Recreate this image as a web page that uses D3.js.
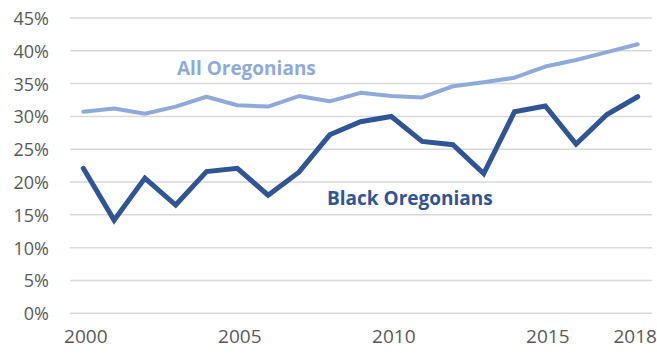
<!DOCTYPE html>
<html>
<head>
<meta charset="utf-8">
<script src="https://cdn.jsdelivr.net/npm/d3@7"></script>
<style>
  html, body { margin: 0; padding: 0; background: #ffffff; }
  svg { display: block; }
  text { font-family: "Open Sans", "Liberation Sans", sans-serif; }
</style>
</head>
<body>
<svg id="chart" width="657" height="353"></svg>
<script>
// Share of Oregonians, 2000–2018
const years = d3.range(2000, 2019);
const allOregonians = [30.7, 31.2, 30.4, 31.5, 33.0, 31.7, 31.5, 33.1, 32.3, 33.6,
                       33.1, 32.9, 34.6, 35.2, 35.9, 37.6, 38.6, 39.8, 41.0];
const blackOregonians = [22.1, 14.2, 20.6, 16.5, 21.6, 22.1, 18.0, 21.5, 27.2, 29.2,
                         30.0, 26.2, 25.7, 21.3, 30.7, 31.6, 25.8, 30.3, 33.0];
const xTickYears = [2000, 2005, 2010, 2015, 2018];
const yTicks = [0, 5, 10, 15, 20, 25, 30, 35, 40, 45];
const seriesLabels = ["All Oregonians", "Black Oregonians"];

const svg = d3.select("#chart");

const x = d3.scaleLinear().domain([2000, 2018]).range([83.3, 637.7]);
const y = d3.scaleLinear().domain([0, 45]).range([313.3, 18]);

// horizontal gridlines
svg.append("g")
  .selectAll("line")
  .data(yTicks)
  .join("line")
  .attr("x1", 70).attr("x2", 652)
  .attr("y1", d => y(d)).attr("y2", d => y(d))
  .attr("stroke", "#d9d9d9")
  .attr("stroke-width", 1.5);

// y axis labels
const yAxis = d3.axisLeft(y).tickValues(yTicks).tickFormat(d => d + "%").tickSize(0).tickPadding(0);
svg.append("g")
  .attr("transform", "translate(49,0)")
  .call(yAxis)
  .call(g => g.select(".domain").remove())
  .call(g => g.selectAll("text")
    .attr("fill", "#595959")
    .attr("font-size", 18)
    .attr("dy", "0.36em")
    .style("font-family", "'Open Sans', 'Liberation Sans', sans-serif"));

// x axis labels; the last one is nudged left so it stays inside the frame
const xAxis = d3.axisBottom(x).tickValues(xTickYears).tickFormat(d3.format("d")).tickSize(0).tickPadding(0);
svg.append("g")
  .attr("transform", "translate(2,329)")
  .call(xAxis)
  .call(g => g.select(".domain").remove())
  .call(g => g.selectAll("text")
    .attr("fill", "#595959")
    .attr("font-size", 19)
    .attr("dy", "0.71em")
    .attr("dx", d => d === 2018 ? -5 : 0)
    .style("font-family", "'Open Sans', 'Liberation Sans', sans-serif"));

const line = d3.line().x((d, i) => x(years[i])).y(d => y(d));

svg.append("path")
  .datum(allOregonians)
  .attr("fill", "none")
  .attr("stroke", "#8eaadb")
  .attr("stroke-width", 4)
  .attr("stroke-linejoin", "round")
  .attr("stroke-linecap", "round")
  .attr("d", line);

svg.append("path")
  .datum(blackOregonians)
  .attr("fill", "none")
  .attr("stroke", "#2f5597")
  .attr("stroke-width", 5)
  .attr("stroke-linejoin", "miter")
  .attr("stroke-linecap", "round")
  .attr("d", line);

// series labels
svg.append("text")
  .attr("x", 177).attr("y", 75)
  .attr("fill", "#8eaadb")
  .attr("font-size", 19)
  .attr("font-weight", "bold")
  .text(seriesLabels[0]);

svg.append("text")
  .attr("x", 327).attr("y", 205)
  .attr("fill", "#2f5597")
  .attr("font-size", 19)
  .attr("font-weight", "bold")
  .text(seriesLabels[1]);
</script>
</body>
</html>
